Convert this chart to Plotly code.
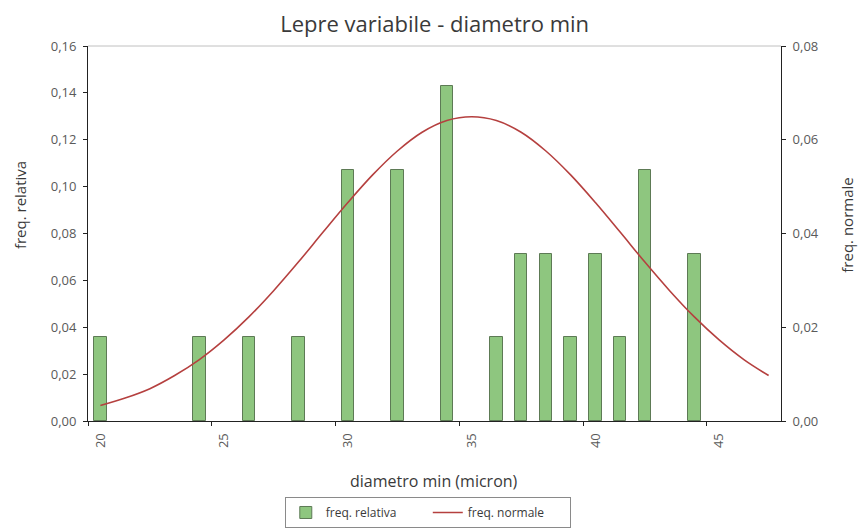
import plotly.graph_objects as go

# ---- data ----
categories = [20, 24, 26, 28, 30, 32, 34, 36, 37, 38, 39, 40, 41, 42, 44]
freq_relativa = [0.0357, 0.0357, 0.0357, 0.0357, 0.1071, 0.1071, 0.1429, 0.0357,
                 0.0714, 0.0714, 0.0357, 0.0714, 0.0357, 0.1071, 0.0714]

normal_x = [20, 21, 22, 23, 24, 25, 26, 27, 28, 29, 30, 31, 32, 33,
            34, 35, 36, 37, 38, 39, 40, 41, 42, 43, 44, 45, 46, 47]
freq_normale = [0.0033, 0.0049, 0.0069, 0.0097, 0.0131, 0.0173, 0.0222, 0.0278,
                0.0339, 0.0403, 0.0466, 0.0525, 0.0576, 0.0616, 0.0641, 0.0649,
                0.0641, 0.0616, 0.0576, 0.0525, 0.0466, 0.0403, 0.0339, 0.0278,
                0.0222, 0.0173, 0.0131, 0.0097]

x_tick_labels = ["20", "25", "30", "35", "40", "45"]
x_tick_vals = [20, 25, 30, 35, 40, 45]
x_boundaries = [19.5, 24.5, 29.5, 34.5, 39.5, 44.5]

FONT = "Open Sans"
TXT = "#3a3a3a"
TICK = "#5a5a5a"
AX = "#222222"

fig = go.Figure()
fig.add_trace(go.Bar(
    x=categories, y=freq_relativa, name="freq. relativa", width=0.5,
    marker=dict(color="#8ec67f", line=dict(color="#5d7a55", width=1)),
    yaxis="y",
))
fig.add_trace(go.Scatter(
    x=normal_x, y=freq_normale, name="freq. normale", mode="lines",
    line=dict(color="#b5403f", width=1.6, shape="spline"),
    yaxis="y2",
))

fig.update_layout(
    width=859, height=529,
    margin=dict(l=88, r=78, t=46, b=108, autoexpand=False),
    paper_bgcolor="white", plot_bgcolor="white",
    separators=",.",
    font=dict(family=FONT, size=12, color=TXT),
    title=dict(text="Lepre variabile - diametro min", x=0.506, xanchor="center",
               y=0.955, yanchor="middle", font=dict(size=22, color=TXT)),
    showlegend=True,
    legend=dict(orientation="h", xref="container", yref="container",
                x=0.498, xanchor="center", y=0.0605, yanchor="top",
                bordercolor="#8a8a8a", borderwidth=1, font=dict(size=12, color=TXT),
                itemwidth=30, entrywidth=97, traceorder="normal"),
    bargap=0,
    xaxis=dict(range=[19.5, 47.5], tickvals=x_tick_vals, ticktext=x_tick_labels,
               tickangle=-90, ticks="", showline=True, linecolor=AX, linewidth=1,
               showgrid=False, zeroline=False, ticklabelstandoff=6,
               minor=dict(tickvals=x_boundaries, ticks="outside", ticklen=4,
                          tickcolor=AX, showgrid=False),
               tickfont=dict(size=13, color=TICK)),
    xaxis2=dict(range=[19.5, 47.5], overlaying="x", anchor="y", side="bottom",
                tickvals=x_boundaries, ticks="inside", ticklen=4, tickcolor=AX,
                showticklabels=False, showline=False, showgrid=False, zeroline=False),
    yaxis=dict(range=[0, 0.16], dtick=0.02, tickformat=".2f", ticks="outside",
               ticklen=4, tickcolor=AX, showline=True, linecolor=AX,
               linewidth=1, showgrid=False, zeroline=False, ticklabelstandoff=4,
               tickfont=dict(size=13, color=TICK)),
    yaxis2=dict(range=[0, 0.08], dtick=0.02, tickformat=".2f", ticks="outside",
                ticklen=4, tickcolor=AX, overlaying="y", side="right",
                showline=True, linecolor=AX, linewidth=1, showgrid=False,
                zeroline=False, ticklabelstandoff=4,
                tickfont=dict(size=13, color=TICK)),
    yaxis3=dict(range=[0, 0.16], dtick=0.02, ticks="inside", ticklen=4, tickcolor=AX,
                overlaying="y", side="left", showticklabels=False, showline=False,
                showgrid=False, zeroline=False),
    yaxis4=dict(range=[0, 0.08], dtick=0.02, ticks="inside", ticklen=4, tickcolor=AX,
                overlaying="y", side="right", showticklabels=False, showline=False,
                showgrid=False, zeroline=False),
    shapes=[dict(type="line", xref="paper", yref="paper", x0=0, x1=1, y0=1, y1=1,
                 line=dict(color="#c0c0c0", width=1))],
    annotations=[
        dict(text="diametro min (micron)", xref="paper", yref="paper", x=0.499,
             y=-0.16, xanchor="center", yanchor="middle", showarrow=False,
             font=dict(size=16, color=TXT)),
        dict(text="freq. relativa", xref="paper", yref="paper", x=-0.098, y=0.576,
             xanchor="center", yanchor="middle", textangle=-90, showarrow=False,
             font=dict(size=15, color=TXT)),
        dict(text="freq. normale", xref="paper", yref="paper", x=1.095, y=0.523,
             xanchor="center", yanchor="middle", textangle=-90, showarrow=False,
             font=dict(size=15, color=TXT)),
    ],
)

fig.write_html("out.html", config={"displayModeBar": False},
               post_script="document.body.style.margin='0';document.body.style.overflow='hidden';")
